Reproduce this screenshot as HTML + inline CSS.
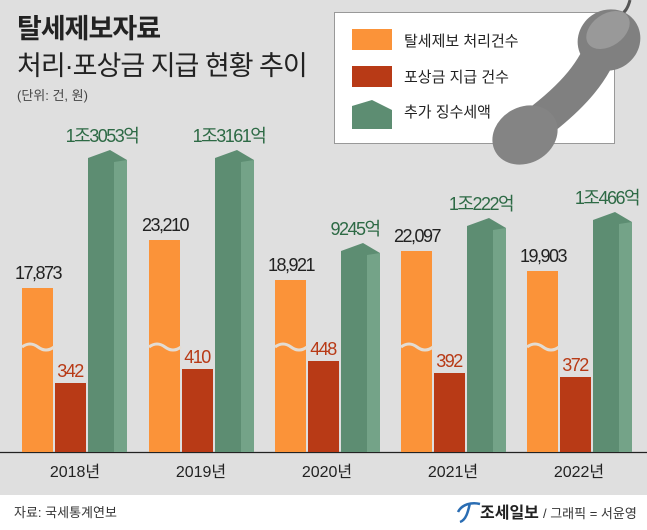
<!DOCTYPE html>
<html><head><meta charset="utf-8"><style>
body{margin:0;width:647px;height:530px;overflow:hidden;background:#fff;font-family:"Liberation Sans","Noto Sans CJK KR",sans-serif}
#c{position:absolute;left:0;top:0;width:647px;height:495px;background:#dfdfdf}
</style></head><body>
<div id="c"></div>
<svg width="647" height="530" style="position:absolute;left:0;top:0" font-family="Liberation Sans, Noto Sans CJK KR, sans-serif">
<text x="17" y="38" font-size="27" font-weight="bold" fill="#222" letter-spacing="-1">탈세제보자료</text>
<text x="17" y="75" font-size="27" fill="#222" letter-spacing="-1">처리·포상금 지급 현황 추이</text>
<text x="17" y="100" font-size="13" fill="#444">(단위: 건, 원)</text>
<rect x="334.5" y="12.5" width="280" height="131" fill="#fff" stroke="#999"/>
<rect x="352" y="29" width="40" height="21" fill="#fb9339"/>
<rect x="352" y="66" width="40" height="21" fill="#b83a16"/>
<polygon points="352,106 372,100 392,110 392,129 352,129" fill="#5d8d72"/>
<text x="404" y="46" font-size="15" fill="#222">탈세제보 처리건수</text>
<text x="404" y="82" font-size="15" fill="#222">포상금 지급 건수</text>
<text x="404" y="117" font-size="15" fill="#222">추가 징수세액</text>
<!-- phone -->
<path d="M630,0 C628,8 625,12 620,16" stroke="#555" stroke-width="3" fill="none"/>
<path d="M605,40 C595,70 575,95 535,125" stroke="#808080" stroke-width="34" fill="none" stroke-linecap="round"/>
<ellipse cx="609" cy="40" rx="32" ry="30" fill="#808080" transform="rotate(-35 609 40)"/>
<ellipse cx="525" cy="135" rx="34" ry="28" fill="#848484" transform="rotate(-30 525 135)"/>
<ellipse cx="608" cy="30" rx="24" ry="16" fill="#999" transform="rotate(-35 608 30)"/>
<line x1="0" y1="452.5" x2="647" y2="452.5" stroke="#222" stroke-width="1.3"/>
<g font-size="16" fill="#222" text-anchor="middle">
<text x="75" y="477">2018년</text><text x="201" y="477">2019년</text><text x="327" y="477">2020년</text><text x="453" y="477">2021년</text><text x="579" y="477">2022년</text>
</g>
<g id="bars"></g>
<text x="14" y="517" font-size="13" fill="#333">자료: 국세통계연보</text>
<path d="M458,512 C462,504 472,502 480,504 M470,503 C468,512 466,520 460,522" stroke="#2a6db3" stroke-width="2.5" fill="none"/>
<text x="480" y="518" font-size="16" font-weight="bold" fill="#222">조세일보</text>
<text x="543" y="518" font-size="13" fill="#333">/ 그래픽 = 서윤영</text>
</svg>
<script>
var d=[[22,288,383,150,"17,873","342","1조3053억"],[149,240,369,150,"23,210","410","1조3161억"],[275,280,361,243,"18,921","448","9245억"],[401,251,373,218,"22,097","392","1조222억"],[527,271,377,212,"19,903","372","1조466억"]];
var s="";
d.forEach(function(b){var x=b[0];
s+='<rect x="'+x+'" y="'+b[1]+'" width="31" height="'+(452-b[1])+'" fill="#fb9339"/>';
s+='<path d="M'+x+',347 q8,-6 16,0 t16,0" stroke="#e3dcd3" stroke-width="3" fill="none"/>';
s+='<rect x="'+(x+33)+'" y="'+b[2]+'" width="31" height="'+(452-b[2])+'" fill="#b83a16"/>';
var gx=x+66,gt=b[3];
s+='<polygon points="'+gx+','+(gt+8)+' '+(gx+22)+','+gt+' '+(gx+39)+','+(gt+10)+' '+(gx+39)+',452 '+gx+',452" fill="#5d8d72"/>';
s+='<polygon points="'+(gx+26)+','+(gt+12)+' '+(gx+39)+','+(gt+10)+' '+(gx+39)+',452 '+(gx+26)+',452" fill="#74a388"/>';
s+='<text x="'+(x+16)+'" y="'+(b[1]-9)+'" font-size="18" fill="#222" text-anchor="middle" letter-spacing="-1.5">'+b[4]+'</text>';
s+='<text x="'+(x+48)+'" y="'+(b[2]-6)+'" font-size="18" fill="#b83a16" text-anchor="middle" letter-spacing="-1.5">'+b[5]+'</text>';
s+='<text x="'+(gx+14)+'" y="'+(gt-8)+'" font-size="18" fill="#2d6a45" text-anchor="middle" letter-spacing="-1.5">'+b[6]+'</text>';
});
document.getElementById("bars").innerHTML=s;
</script>
</body></html>
